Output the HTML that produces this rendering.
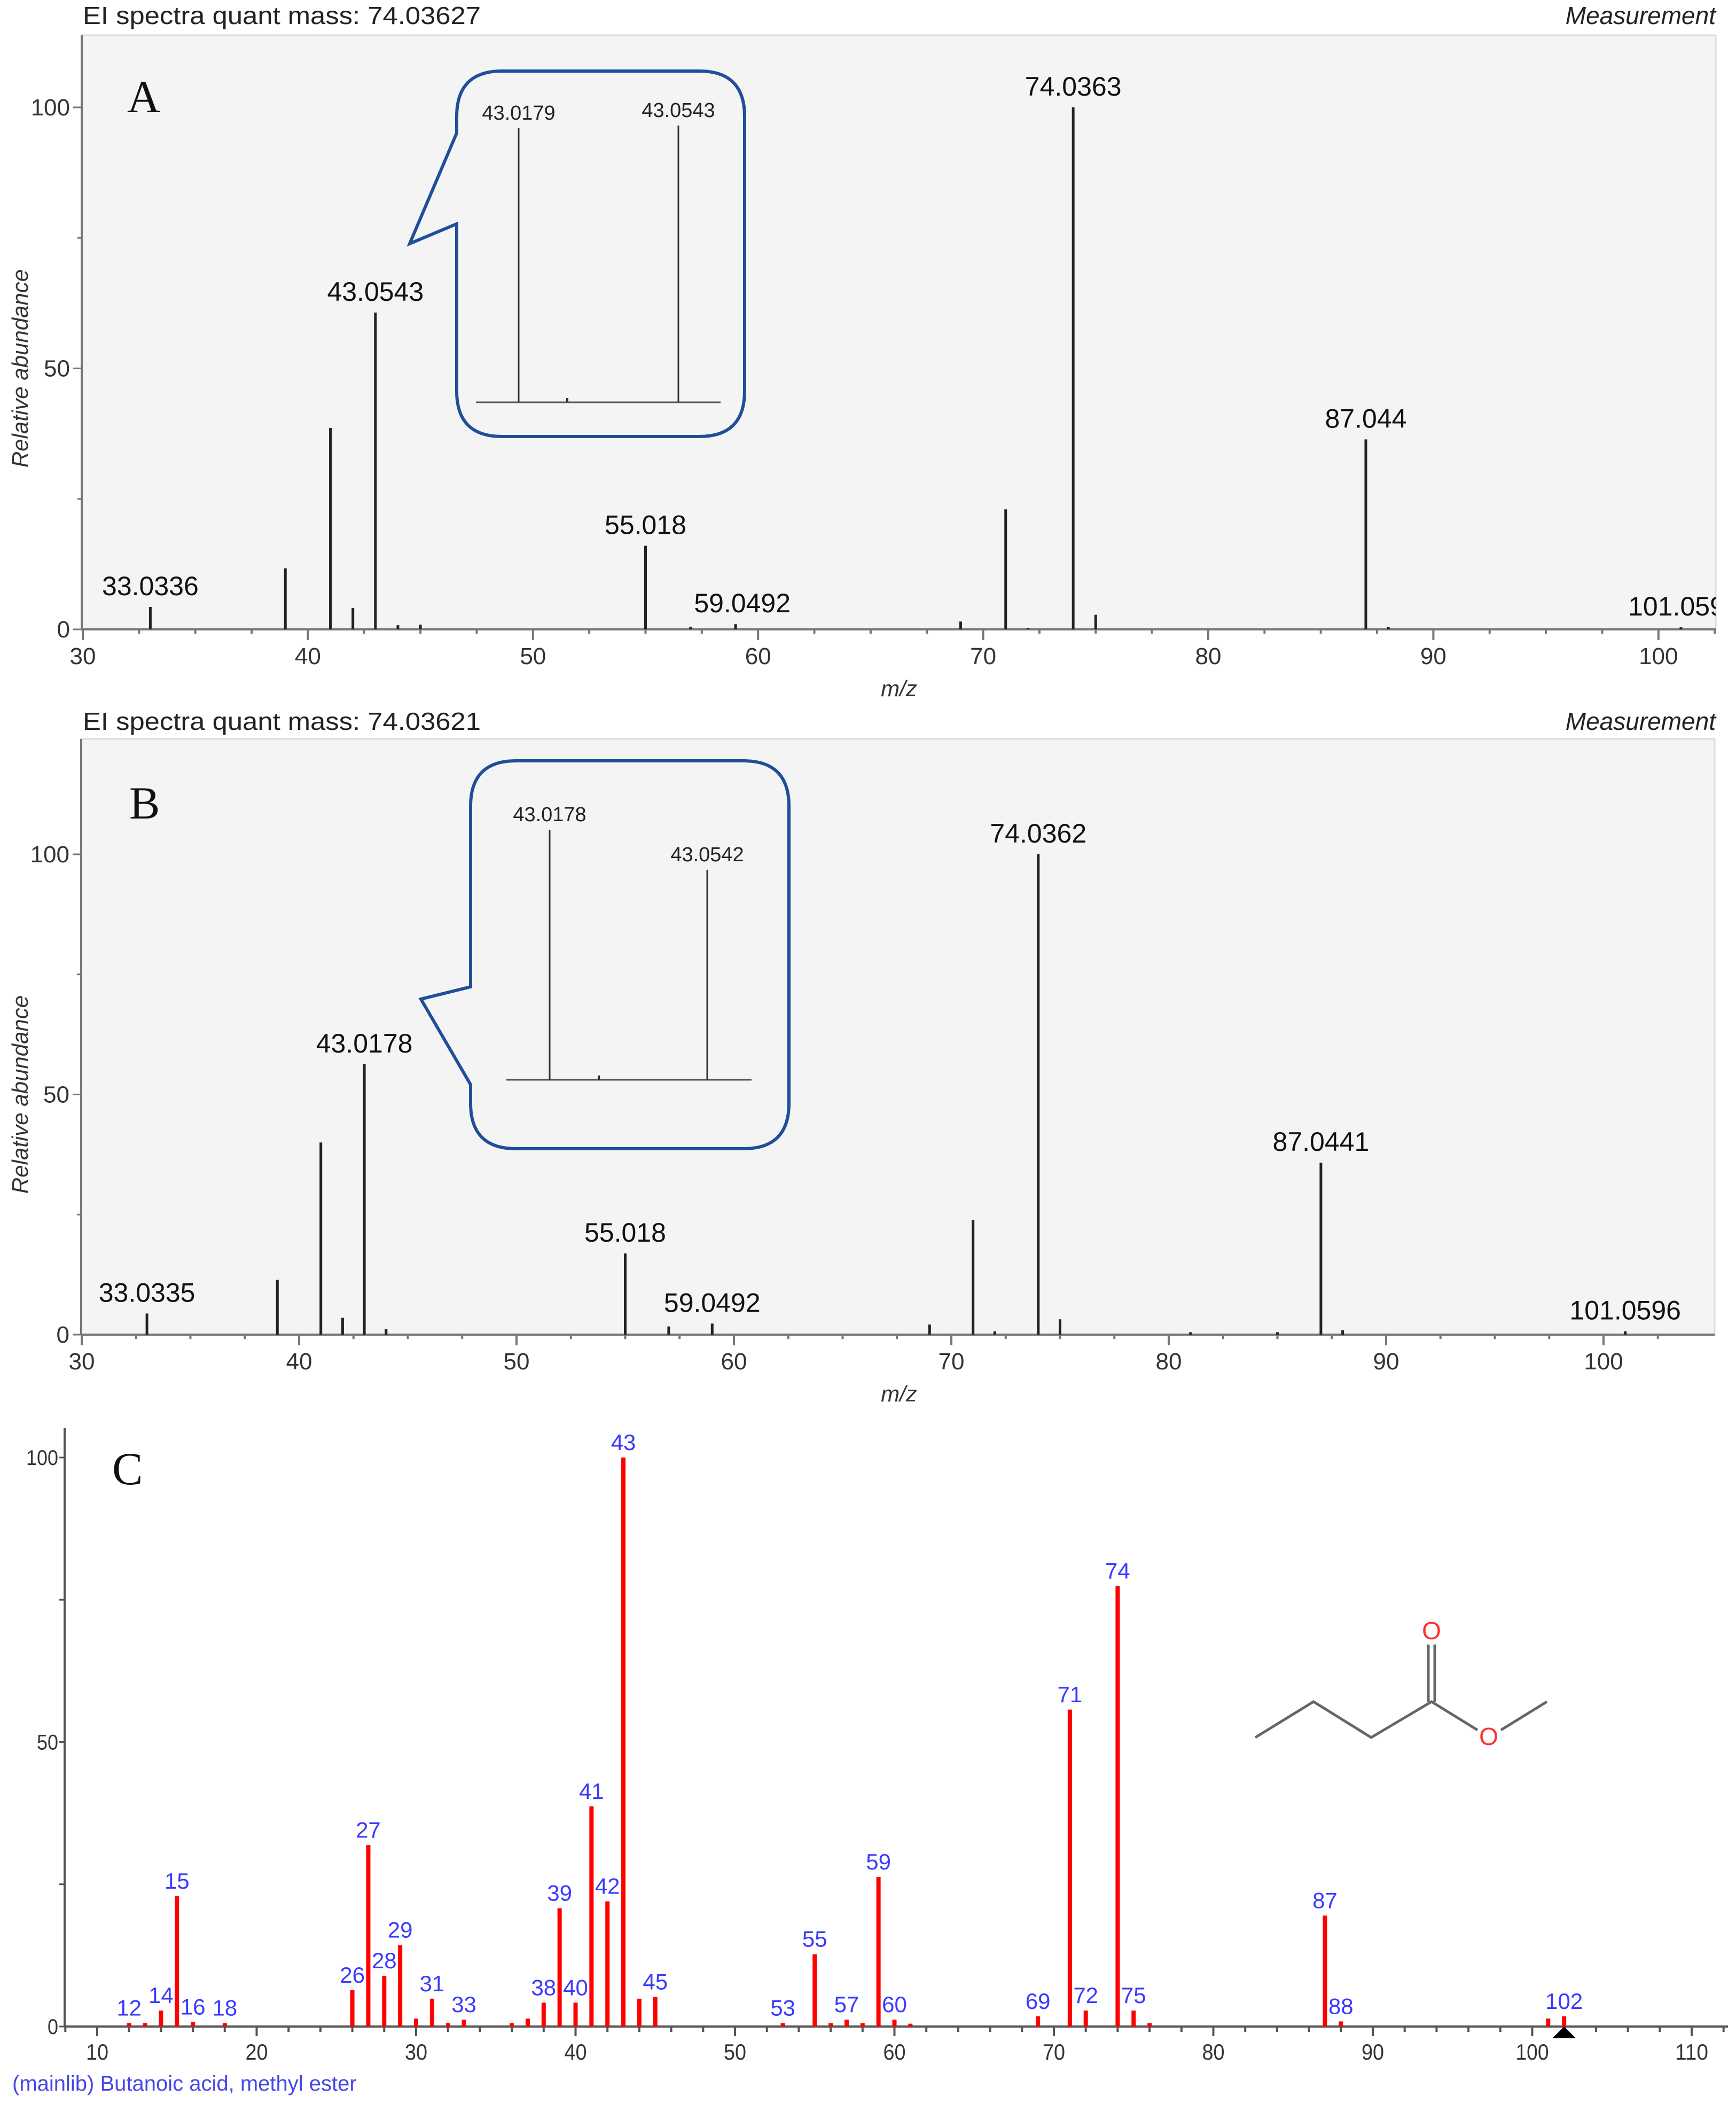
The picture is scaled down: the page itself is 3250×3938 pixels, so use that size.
<!DOCTYPE html>
<html><head><meta charset="utf-8">
<style>
html,body{margin:0;padding:0;background:#fff;}
svg{display:block;}
text{font-family:"Liberation Sans",sans-serif;}
</style></head>
<body>
<svg id="fig" width="3250" height="3938" viewBox="0 0 3250 3938" xmlns="http://www.w3.org/2000/svg">
<rect x="0" y="0" width="3250" height="3938" fill="#fff"/>
<g id="panelA"></g>
<g id="panelB"></g>
<g id="panelC"></g>
</svg>
<script>
// ---- Panel A data ----
const aMz = [33, 39, 41, 42, 43, 44, 45, 55, 57, 59, 69, 71, 72, 74, 75, 87, 88, 101];
const aInt = [4.3, 11.7, 38.6, 4.1, 60.7, 0.8, 0.9, 16, 0.5, 1.0, 1.5, 23, 0.3, 100, 2.8, 36.4, 0.5, 0.4];
const aLabelMz = [33, 43, 55, 59.3, 74, 87, 100.8];
const aLabelInt = [4.3, 60.7, 16, 1.0, 100, 36.4, 0.4];
const aLabelText = ["33.0336", "43.0543", "55.018", "59.0492", "74.0363", "87.044", "101.059"];
const aInsetLabels = ["43.0179", "43.0543"];
const aInsetInt = [100, 101];
// ---- Panel B data ----
const bMz = [33, 39, 41, 42, 43, 44, 55, 57, 59, 69, 71, 72, 74, 75, 81, 85, 87, 88, 101];
const bInt = [4.4, 11.4, 40, 3.5, 56.3, 1.2, 16.9, 1.7, 2.3, 2.1, 23.8, 0.7, 100, 3.2, 0.5, 0.5, 35.8, 0.9, 0.7];
const bLabelMz = [33, 43, 55, 59, 74, 87, 101];
const bLabelInt = [4.4, 56.3, 16.9, 2.3, 100, 35.8, 0.7];
const bLabelText = ["33.0335", "43.0178", "55.018", "59.0492", "74.0362", "87.0441", "101.0596"];
const bInsetLabels = ["43.0178", "43.0542"];
const bInsetInt = [100, 84];
// ---- shared tick labels A/B ----
const abXTicks = [30, 40, 50, 60, 70, 80, 90, 100];
const abYTicks = [0, 50, 100];
// ---- Panel C data ----
const cMz = [12, 13, 14, 15, 16, 18, 26, 27, 28, 29, 30, 31, 32, 33, 36, 37, 38, 39, 40, 41, 42, 43, 44, 45, 53, 55, 56, 57, 58, 59, 60, 61, 69, 71, 72, 74, 75, 76, 87, 88, 101, 102];
const cInt = [0.6, 0.6, 2.8, 22.9, 0.8, 0.6, 6.4, 31.9, 8.9, 14.3, 1.4, 4.9, 0.6, 1.2, 0.6, 1.4, 4.2, 20.8, 4.2, 38.7, 22, 100, 4.9, 5.2, 0.6, 12.7, 0.6, 1.2, 0.6, 26.3, 1.2, 0.5, 1.8, 55.7, 2.8, 77.4, 2.8, 0.6, 19.5, 0.9, 1.4, 1.8];
const cLabeled = [12, 14, 15, 16, 18, 26, 27, 28, 29, 31, 33, 38, 39, 40, 41, 42, 43, 45, 53, 55, 57, 59, 60, 69, 71, 72, 74, 75, 87, 88, 102];
const cXTicks = [10, 20, 30, 40, 50, 60, 70, 80, 90, 100, 110];
const cYTicks = [0, 50, 100];

const NS = "http://www.w3.org/2000/svg";
function mk(tag, attrs, parent, txt) {
  const e = document.createElementNS(NS, tag);
  for (const k in attrs) e.setAttribute(k, attrs[k]);
  if (txt !== undefined) e.textContent = txt;
  parent.appendChild(e);
  return e;
}

function drawMeasured(g, cfg, mz, inten, lMz, lInt, lText, insetLabels, insetInt) {
  const xS = m => cfg.x30 + (m - 30) * cfg.step;
  const yS = v => cfg.y0 - v * (cfg.y0 - cfg.y100) / 100;
  let t = mk("text", {x: 155, y: cfg.titleY, "font-size": 46, fill: "#222", textLength: 745, lengthAdjust: "spacingAndGlyphs"}, g, cfg.title);
  
  
  t = mk("text", {x: 3212, y: cfg.titleY, "font-size": 46, fill: "#222", "font-style": "italic", "text-anchor": "end"}, g, "Measurement");
  
  
  const frame = mk("rect", {x: cfg.left, y: cfg.top, width: cfg.right - cfg.left, height: cfg.y0 - cfg.top, fill: "#f4f4f4", stroke: "#dcdcdc", "stroke-width": 3}, g);
  
  
  let ax = mk("line", {x1: cfg.left, y1: cfg.top, x2: cfg.left, y2: cfg.y0, stroke: "#777", "stroke-width": 4}, g);
  
  
  ax = mk("line", {x1: cfg.left, y1: cfg.y0, x2: cfg.right, y2: cfg.y0, stroke: "#777", "stroke-width": 4}, g);
  
  
  for (let m = 30; m <= 103; m += 2.5) {
    const major = (m % 10 === 0);
    const tk = mk("line", {x1: xS(m), y1: cfg.y0, x2: xS(m), y2: cfg.y0 + (major ? 20 : 8), stroke: "#777", "stroke-width": 4}, g);
    
    
  }
  abXTicks.forEach(v => {
    const tl = mk("text", {x: xS(v), y: cfg.y0 + 65, "font-size": 44, fill: "#333", "text-anchor": "middle"}, g, String(v));
    
    
  });
  for (let v = 0; v <= 100; v += 25) {
    const tk = mk("line", {x1: cfg.left - (v % 50 === 0 ? 16 : 8), y1: yS(v), x2: cfg.left, y2: yS(v), stroke: "#777", "stroke-width": 3}, g);
    
    
  }
  abYTicks.forEach(v => {
    const tl = mk("text", {x: cfg.left - 22, y: yS(v) + 15, "font-size": 44, fill: "#333", "text-anchor": "end"}, g, String(v));
    
    
  });
  const yc = (cfg.y0 + cfg.y100) / 2;
  t = mk("text", {x: 52, y: yc, "font-size": 42, fill: "#333", "font-style": "italic", "text-anchor": "middle", transform: "rotate(-90 52 " + yc + ")"}, g, "Relative abundance");
  
  
  t = mk("text", {x: 1683, y: cfg.y0 + 125, "font-size": 42, fill: "#333", "font-style": "italic", "text-anchor": "middle"}, g, "m/z");
  
  
  t = mk("text", {x: cfg.letterX, y: cfg.letterY, "font-size": 86, fill: "#111", style: "font-family:'Liberation Serif',serif"}, g, cfg.letter);
  
  
  mz.forEach((m, i) => {
    const p = mk("line", {x1: xS(m), y1: cfg.y0, x2: xS(m), y2: yS(inten[i]), stroke: "#222", "stroke-width": 5}, g);
    
    
  });
  const clipId = "clip" + cfg.letter;
  const cp = mk("clipPath", {id: clipId}, g);
  mk("rect", {x: cfg.left, y: cfg.top, width: cfg.right - cfg.left, height: cfg.y0 - cfg.top}, cp);
  lMz.forEach((m, i) => {
    const pl = mk("text", {x: xS(m), y: yS(lInt[i]) - 22, "font-size": 50, fill: "#111", "text-anchor": "middle", "clip-path": "url(#" + clipId + ")"}, g, lText[i]);
    
    
  });
  const s = cfg.inset;
  const r = 85;
  const d = `M ${s.x1 + r} ${s.y1} L ${s.x2 - r} ${s.y1} Q ${s.x2} ${s.y1} ${s.x2} ${s.y1 + r} L ${s.x2} ${s.y2 - r} Q ${s.x2} ${s.y2} ${s.x2 - r} ${s.y2} L ${s.x1 + r} ${s.y2} Q ${s.x1} ${s.y2} ${s.x1} ${s.y2 - r} L ${s.x1} ${s.pb2} L ${s.tipX} ${s.tipY} L ${s.x1} ${s.pb1} L ${s.x1} ${s.y1 + r} Q ${s.x1} ${s.y1} ${s.x1 + r} ${s.y1} Z`;
  const co = mk("path", {d: d, fill: "#f4f4f4", stroke: "#1f4f98", "stroke-width": 6}, g);
  
  
  const bl = mk("line", {x1: s.bx1, y1: s.by, x2: s.bx2, y2: s.by, stroke: "#555", "stroke-width": 3}, g);
  
  
  const iy = v => s.by - v * (s.by - s.ytop) / 100;
  s.px.forEach((px, i) => {
    const ip = mk("line", {x1: px, y1: s.by, x2: px, y2: iy(insetInt[i]), stroke: "#333", "stroke-width": 3}, g);
    
    
    const il = mk("text", {x: px, y: iy(insetInt[i]) - 16, "font-size": 38, fill: "#222", "text-anchor": "middle"}, g, insetLabels[i]);
    
    
  });
  const sm = mk("line", {x1: s.tick, y1: s.by, x2: s.tick, y2: s.by - 8, stroke: "#333", "stroke-width": 4}, g);
  
  
}

drawMeasured(document.getElementById("panelA"), {
  title: "EI spectra quant mass: 74.03627", titleY: 45, letter: "A", letterX: 238, letterY: 210,
  left: 153, right: 3212, top: 66, y0: 1178, y100: 201, x30: 155, step: 42.14,
  inset: {x1: 855, x2: 1394, y1: 133, y2: 817, tipX: 767, tipY: 456, pb1: 249, pb2: 419,
          bx1: 891, bx2: 1349, by: 753, ytop: 240, px: [971, 1270], tick: 1062}
}, aMz, aInt, aLabelMz, aLabelInt, aLabelText, aInsetLabels, aInsetInt);

drawMeasured(document.getElementById("panelB"), {
  title: "EI spectra quant mass: 74.03621", titleY: 1366, letter: "B", letterX: 242, letterY: 1532,
  left: 152, right: 3210, top: 1383, y0: 2498, y100: 1599, x30: 153, step: 40.7,
  inset: {x1: 881, x2: 1477, y1: 1424, y2: 2150, tipX: 788, tipY: 1870, pb1: 1847, pb2: 2030,
          bx1: 948, bx2: 1407, by: 2021, ytop: 1553, px: [1029, 1324], tick: 1121}
}, bMz, bInt, bLabelMz, bLabelInt, bLabelText, bInsetLabels, bInsetInt);

(function () {
  const g = document.getElementById("panelC");
  const x10 = 182, st = 29.85, y0 = 3793, y100 = 2728, left = 121;
  const xS = m => x10 + (m - 10) * st;
  const yS = v => y0 - v * (y0 - y100) / 100;
  let e = mk("line", {x1: left, y1: 2673, x2: left, y2: y0, stroke: "#555", "stroke-width": 4}, g);
  
  
  e = mk("line", {x1: left, y1: y0, x2: 3235, y2: y0, stroke: "#555", "stroke-width": 4}, g);
  
  
  for (let m = 8; m <= 112; m += 2) {
    const major = (m % 10 === 0);
    const tk = mk("line", {x1: xS(m), y1: y0, x2: xS(m), y2: y0 + (major ? 18 : 10), stroke: "#555", "stroke-width": 4}, g);
    
    
  }
  cXTicks.forEach(v => {
    const tl = mk("text", {x: xS(v), y: y0 + 62, "font-size": 42, fill: "#333", "text-anchor": "middle", textLength: v >= 100 ? 62 : 42, lengthAdjust: "spacingAndGlyphs"}, g, String(v));
    
    
  });
  for (let v = 0; v <= 100; v += 25) {
    const tk = mk("line", {x1: left - 10, y1: yS(v), x2: left, y2: yS(v), stroke: "#555", "stroke-width": 3}, g);
    
    
  }
  cYTicks.forEach(v => {
    const tl = mk("text", {x: left - 12, y: yS(v) + 14, "font-size": 40, fill: "#333", "text-anchor": "end", textLength: v === 100 ? 60 : (v === 50 ? 40 : 20), lengthAdjust: "spacingAndGlyphs"}, g, String(v));
    
    
  });
  e = mk("text", {x: 210, y: 2778, "font-size": 86, fill: "#111", style: "font-family:'Liberation Serif',serif"}, g, "C");
  
  
  cMz.forEach((m, i) => {
    const b = mk("line", {x1: xS(m), y1: y0, x2: xS(m), y2: yS(cInt[i]), stroke: "#ff0000", "stroke-width": 8}, g);
    
    
    if (cLabeled.indexOf(m) >= 0) {
      const l = mk("text", {x: xS(m), y: yS(cInt[i]) - 14, "font-size": 42, fill: "#3a3aff", "text-anchor": "middle"}, g, String(m));
      
      
    }
  });
  const tx = xS(102);
  e = mk("polygon", {points: `${tx - 22},${y0 + 22} ${tx + 22},${y0 + 22} ${tx},${y0}`, fill: "#000"}, g);
  
  
  e = mk("text", {x: 23, y: 3913, "font-size": 40, fill: "#4646e6"}, g, "(mainlib) Butanoic acid, methyl ester");
  
  
  const mol = mk("g", {stroke: "#666", "stroke-width": 5, fill: "none"}, g);
  
  
  mk("polyline", {points: "2350,3252 2459,3185 2567,3252 2680,3185 2766,3238"}, mol);
  mk("line", {x1: 2674, y1: 3185, x2: 2674, y2: 3078}, mol);
  mk("line", {x1: 2686, y1: 3185, x2: 2686, y2: 3078}, mol);
  mk("line", {x1: 2810, y1: 3238, x2: 2896, y2: 3185}, mol);
  e = mk("text", {x: 2680, y: 3068, "font-size": 46, fill: "#ff3030", "text-anchor": "middle"}, g, "O");
  
  
  e = mk("text", {x: 2787, y: 3266, "font-size": 46, fill: "#ff3030", "text-anchor": "middle"}, g, "O");
  
  
})();
</script>
</body></html>
